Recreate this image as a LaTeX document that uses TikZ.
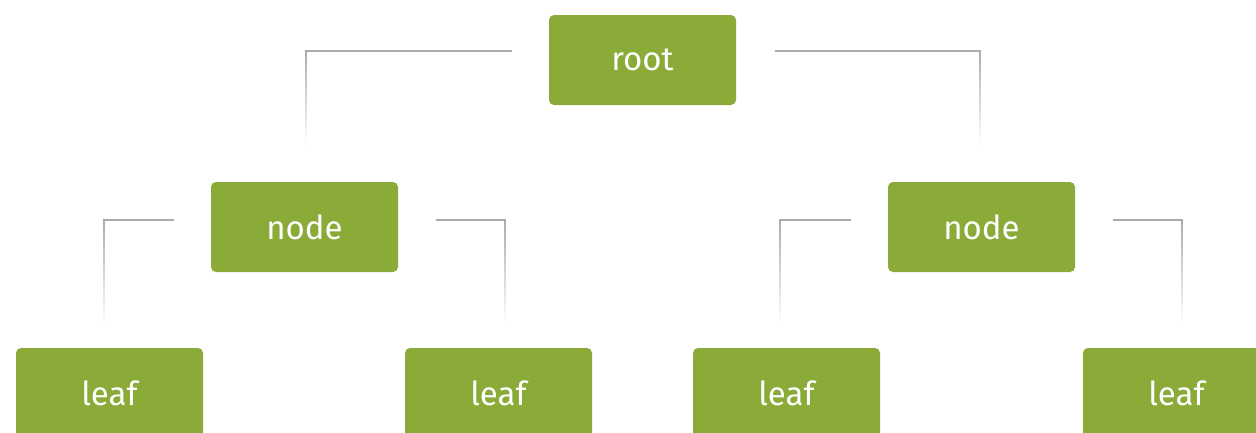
\documentclass[tikz,border=0pt]{standalone}
\usepackage{fontspec}
\setmainfont{Fira Sans}
\definecolor{boxgreen}{HTML}{8AAB37}
\definecolor{linegray}{HTML}{ABABAB}
% elbow connector: horizontal run from #1, then a vertical drop to #2 that fades out
\newcommand\elbow[3]{%
  \coordinate (#3) at (#1 -| #2);
  \draw[conn] (#1) -- (#3);
  \shade[top color=linegray, middle color=linegray, bottom color=white]
    ([xshift=-0.7pt,yshift=0.7pt]#3) rectangle ([xshift=0.7pt]#2);
}
\begin{document}
\begin{tikzpicture}[x=1pt,y=-1pt,
  box/.style={fill=boxgreen, rounded corners=5pt, minimum width=187pt,
    minimum height=90pt, inner sep=0pt, text=white, font=\fontsize{33}{36}\selectfont},
  conn/.style={draw=linegray, line width=1.4pt, line cap=rect}]
\useasboundingbox (0,0) rectangle (1256,432);
\clip (0,0) rectangle (1256,432);

% boxes
\node[box] (root) at (642.5,60) {root};
\node[box] (nL) at (304.5,227) {node};
\node[box] (nR) at (981.5,227) {node};
\node[box] (l1) at (109.5,393) {leaf};
\node[box] (l2) at (498.5,393) {leaf};
\node[box] (l3) at (786.5,393) {leaf};
\node[box] (l4) at (1176.5,393) {leaf};

% connector end points
\coordinate (a0) at ([xshift=-38pt,yshift=9pt]root.west);
\coordinate (a1) at ([xshift=1.5pt,yshift=37pt]nL.north);
\coordinate (b0) at ([xshift=39pt,yshift=9pt]root.east);
\coordinate (b1) at ([xshift=-1.5pt,yshift=37pt]nR.north);
\coordinate (c0) at ([xshift=-38pt,yshift=7pt]nL.west);
\coordinate (c1) at ([xshift=-5.5pt,yshift=23pt]l1.north);
\coordinate (d0) at ([xshift=38pt,yshift=7pt]nL.east);
\coordinate (d1) at ([xshift=6.5pt,yshift=23pt]l2.north);
\coordinate (e0) at ([xshift=-38pt,yshift=7pt]nR.west);
\coordinate (e1) at ([xshift=-6.5pt,yshift=23pt]l3.north);
\coordinate (f0) at ([xshift=38pt,yshift=7pt]nR.east);
\coordinate (f1) at ([xshift=5.5pt,yshift=23pt]l4.north);

% connectors
\elbow{a0}{a1}{ac}
\elbow{b0}{b1}{bc}
\elbow{c0}{c1}{cc}
\elbow{d0}{d1}{dc}
\elbow{e0}{e1}{ec}
\elbow{f0}{f1}{fc}
\end{tikzpicture}
\end{document}
